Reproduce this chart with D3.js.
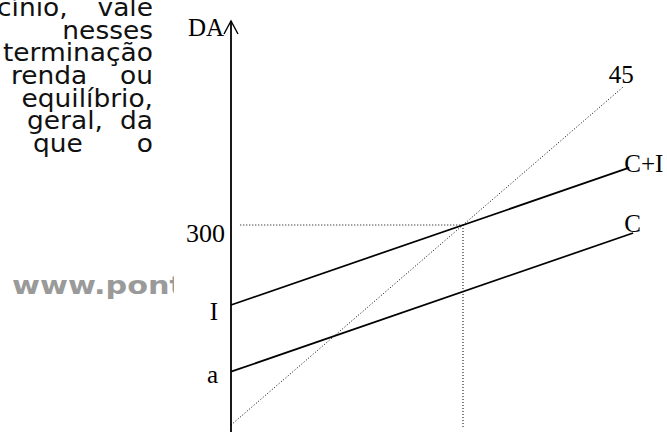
<!DOCTYPE html>
<html><head><meta charset="utf-8">
<script src="https://cdn.jsdelivr.net/npm/d3@7"></script>
<style>html,body{margin:0;padding:0;background:#fff;}svg{display:block;}</style>
</head><body>
<svg id="c" width="667" height="432"></svg>
<script>
// ---- data ----
const textLines = [["cínio,", "vale"], ["nesses"], ["terminação"], ["renda", "ou"], ["equilíbrio,"], ["geral,", "da"], ["que", "o"]];
const watermark = "www.pont";
const axisLabel = "DA";
const yTickValues = [300, 180, 80];
const yTickLabels = ["300", "I", "a"];
const seriesNames = ["45", "C+I", "C"];
const seriesStart = [[0, 0], [0, 180], [0, 80]];
const seriesEnd = [[508, 508], [515, 386], [520, 288]];
const equilibrium = [300, 300];

// ---- layout ----
const svg = d3.select("#c");
const x = d3.scaleLinear().domain([0, 300]).range([231, 463]);
const y = d3.scaleLinear().domain([0, 300]).range([425, 225]);

// left paragraph text (cut off by the chart panel and the page edge), horizontally stretched like the scan
const sx = 1.08;
const lineY = [16, 39, 61, 84, 107, 129, 152];
const lineStartX = [-3, 62, 0, 11, 20, 27, 33];
const txt = svg.append("g").attr("transform", `scale(${sx},1)`)
  .attr("font-family", "DejaVu Sans, Verdana, sans-serif").attr("font-size", 24.5).attr("fill", "#111");
textLines.forEach((words, i) => {
  if (words.length === 1) {
    txt.append("text").attr("x", 153 / sx).attr("y", lineY[i]).attr("text-anchor", "end").text(words[0]);
  } else {
    txt.append("text").attr("x", lineStartX[i] / sx).attr("y", lineY[i]).text(words[0]);
    txt.append("text").attr("x", 153 / sx).attr("y", lineY[i]).attr("text-anchor", "end").text(words[1]);
  }
});
svg.append("text").attr("x", 12).attr("y", 294).attr("fill", "#9a9a9a").attr("font-weight", "bold")
  .attr("font-family", "DejaVu Sans, Verdana, sans-serif").attr("font-size", 25)
  .attr("textLength", 172).attr("lengthAdjust", "spacingAndGlyphs").text(watermark);
// white chart panel covering the overflow
svg.append("rect").attr("x", 174).attr("y", 0).attr("width", 493).attr("height", 432).attr("fill", "#fff");

// chart
const g = svg.append("g");
const line = d3.line().x(d => x(d[0])).y(d => y(d[1]));
// dotted guides
g.append("path").attr("d", line([[12, equilibrium[1]], equilibrium])).attr("stroke", "#000").attr("stroke-width", 1).attr("stroke-dasharray", "1,2").attr("fill", "none");
g.append("path").attr("d", line([equilibrium, [equilibrium[0], -4]])).attr("stroke", "#000").attr("stroke-width", 1).attr("stroke-dasharray", "1,2").attr("fill", "none");
// series
seriesNames.forEach((n, i) => {
  g.append("path").attr("d", line([seriesStart[i], seriesEnd[i]]))
    .attr("stroke", "#000").attr("fill", "none")
    .attr("stroke-width", i === 0 ? 1 : 1.7)
    .attr("stroke-dasharray", i === 0 ? "1,2" : null);
});
// y axis with arrow
g.append("line").attr("x1", x(0)).attr("x2", x(0)).attr("y1", 21).attr("y2", 432).attr("stroke", "#000").attr("stroke-width", 1.8);
g.append("path").attr("d", `M${x(0) - 7},34 L${x(0)},21 L${x(0) + 7},34`).attr("stroke", "#000").attr("stroke-width", 1.4).attr("fill", "none");

const serif = "Liberation Serif, Times New Roman, serif";
const lab = g.append("g").attr("font-family", serif).attr("font-size", 25).attr("fill", "#000");
lab.append("text").attr("x", 224).attr("y", 36).attr("text-anchor", "end").text(axisLabel);
const tickDy = [17, 15, 11];
const tickX = [225, 218, 218];
yTickValues.forEach((v, i) => {
  lab.append("text").attr("x", tickX[i]).attr("y", y(v) + tickDy[i]).attr("text-anchor", "end")
    .attr("font-size", i === 0 ? 26 : 25).text(yTickLabels[i]);
});
const labDx = [-15, -5, -9];
const labDy = [-3, 4, -1];
seriesNames.forEach((n, i) => {
  lab.append("text").attr("x", x(seriesEnd[i][0]) + labDx[i]).attr("y", y(seriesEnd[i][1]) + labDy[i]).text(n);
});
</script>
</body></html>
